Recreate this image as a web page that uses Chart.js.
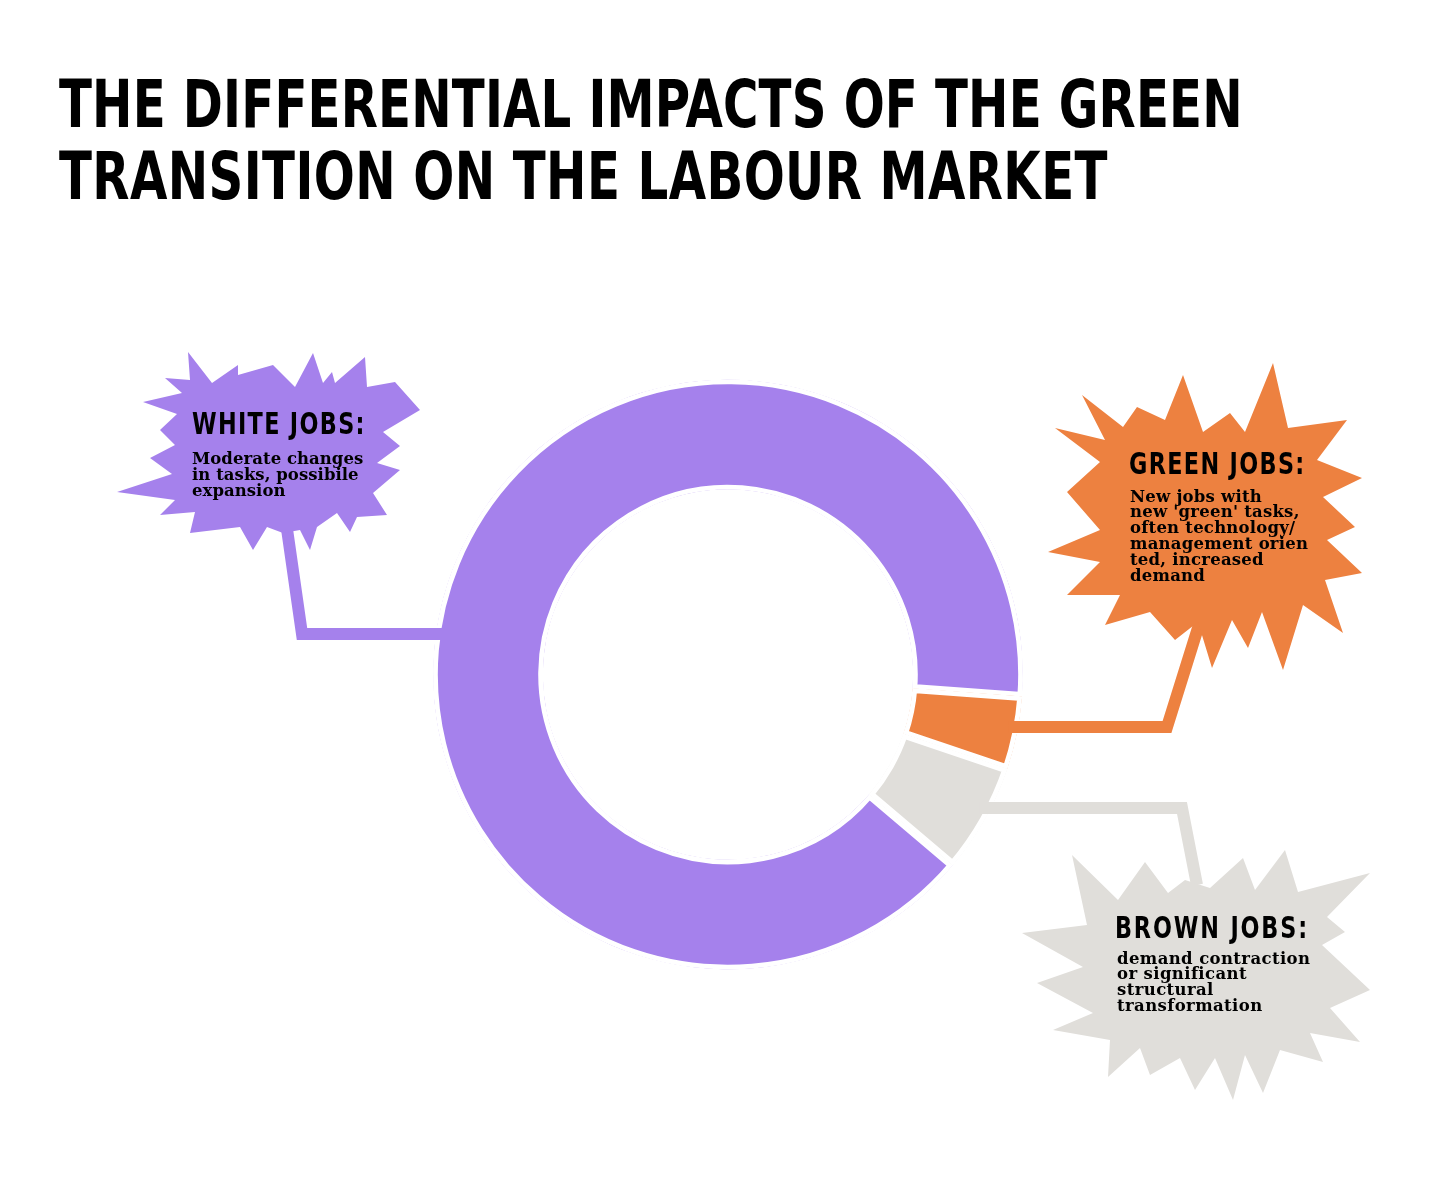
<!DOCTYPE html>
<html>
<head>
<meta charset="utf-8">
<script src="https://cdn.jsdelivr.net/npm/chart.js@4.4.0/dist/chart.umd.min.js"></script>
<style>
html, body { margin: 0; padding: 0; background: #fff; }
#wrap { position: relative; width: 1456px; height: 1200px; overflow: hidden; }
#chart { position: absolute; left: 0; top: 0; }
.txt { position: absolute; white-space: nowrap; color: #000; transform-origin: 0 0; line-height: 1; }
</style>
</head>
<body>
<div id="wrap"><canvas id="chart" width="1456" height="1200"></canvas></div>
<script>
// data
const categories = ['White jobs', 'Green jobs', 'Brown jobs'];
const shares = [90, 4, 6];
const colors = ['#a581ec', '#ed8140', '#e0deda'];

const titleLines = ['THE DIFFERENTIAL IMPACTS OF THE GREEN', 'TRANSITION ON THE LABOUR MARKET'];
const headings = ['WHITE JOBS:', 'GREEN JOBS:', 'BROWN JOBS:'];
const notes = [
    ['Moderate changes', 'in tasks, possibile', 'expansion'],
    ['New jobs with', "new 'green' tasks,", 'often technology/', 'management orien', 'ted, increased', 'demand'],
    ['demand contraction', 'or significant', 'structural', 'transformation']
];

// layout of the call-outs (decoration only)
const links = [
    { y: 634, side: -1, elbow: 302, end: [285, 515] },
    { y: 727, side: 1, elbow: 1167, end: [1202, 615] },
    { y: 808, side: 1, elbow: 1182, end: [1197, 885] }
];
const bursts = [
    [[188,352],[212,383],[238,365],[238,375],[273,365],[295,387],[313,353],[323,383],[332,372],[335,383],[365,357],[367,387],[395,382],[420,410],[383,432],[400,446],[377,463],[400,470],[373,493],[387,515],[357,517],[350,532],[337,513],[317,527],[310,550],[300,530],[283,533],[267,527],[253,550],[240,527],[190,533],[195,512],[160,515],[175,500],[117,492],[172,474],[150,458],[175,445],[160,430],[177,414],[143,402],[182,393],[165,378],[190,380]],
    [[1082,395],[1123,427],[1137,407],[1165,420],[1183,375],[1203,432],[1230,413],[1245,432],[1273,363],[1288,428],[1347,420],[1317,460],[1362,478],[1323,497],[1355,527],[1327,540],[1362,573],[1325,580],[1343,633],[1303,605],[1283,670],[1262,612],[1248,648],[1232,620],[1212,668],[1198,622],[1175,640],[1150,612],[1105,625],[1120,595],[1067,595],[1100,562],[1048,552],[1100,530],[1067,492],[1100,462],[1055,428],[1105,440]],
    [[1072,855],[1118,900],[1145,862],[1168,893],[1185,880],[1210,888],[1243,858],[1255,890],[1285,850],[1298,892],[1370,873],[1327,917],[1345,932],[1322,945],[1370,990],[1330,1008],[1360,1042],[1310,1033],[1323,1062],[1280,1050],[1263,1093],[1245,1055],[1233,1100],[1215,1058],[1195,1090],[1180,1058],[1150,1075],[1140,1048],[1108,1077],[1110,1040],[1053,1030],[1093,1013],[1037,983],[1083,967],[1022,933],[1087,925]]
];

const decor = {
    id: 'decor',
    afterDatasetsDraw(chart) {
        const ctx = chart.ctx;
        const arc = chart.getDatasetMeta(0).data[0];
        const cx = arc.x, cy = arc.y;
        const rEdge = arc.outerRadius - 10;
        ctx.save();
        links.forEach((l, i) => {
            const dx = Math.sqrt(rEdge * rEdge - (l.y - cy) ** 2) * l.side;
            ctx.beginPath();
            ctx.moveTo(cx + dx, l.y);
            ctx.lineTo(l.elbow, l.y);
            ctx.lineTo(l.end[0], l.end[1]);
            ctx.strokeStyle = colors[i];
            ctx.lineWidth = 12;
            ctx.lineJoin = 'miter';
            ctx.stroke();
        });
        bursts.forEach((pts, i) => {
            ctx.beginPath();
            pts.forEach((p, k) => k ? ctx.lineTo(p[0], p[1]) : ctx.moveTo(p[0], p[1]));
            ctx.closePath();
            ctx.fillStyle = colors[i];
            ctx.fill();
        });
        ctx.restore();
    }
};

new Chart(document.getElementById('chart'), {
    type: 'doughnut',
    data: {
        labels: categories,
        datasets: [{
            data: shares,
            backgroundColor: colors,
            borderColor: '#ffffff',
            borderWidth: 4.5,
            borderAlign: 'inner',
            borderJoinStyle: 'miter'
        }]
    },
    options: {
        responsive: false,
        animation: false,
        devicePixelRatio: 1,
        cutout: '62.7%',
        rotation: 130.3,
        layout: { padding: { left: 433, right: 433, top: 379.5, bottom: 230.5 } },
        plugins: { legend: { display: false }, tooltip: { enabled: false } }
    },
    plugins: [decor]
});

// text
const wrap = document.getElementById('wrap');
const meas = document.createElement('canvas').getContext('2d');
const SANS = "'Liberation Sans Narrow', 'DejaVu Sans Condensed', 'DejaVu Sans', sans-serif";
const SERIF = "'DejaVu Serif', serif";

function metrics(str, size, fam) {
    meas.font = 'bold ' + size + 'px ' + fam;
    return meas.measureText(str);
}

function place(str, x, baseline, size, fam, ls, sx) {
    const d = document.createElement('div');
    d.className = 'txt';
    d.style.fontFamily = fam;
    d.style.fontWeight = 'bold';
    d.style.fontSize = size + 'px';
    d.style.letterSpacing = ls + 'px';
    d.style.transform = 'scaleX(' + sx + ')';
    d.textContent = str;
    const mark = document.createElement('span');
    mark.style.cssText = 'display:inline-block;width:0;height:0;vertical-align:baseline';
    d.appendChild(mark);
    wrap.appendChild(d);
    const m = metrics(str, size, fam);
    d.style.left = (x + m.actualBoundingBoxLeft * sx) + 'px';
    d.style.top = (baseline - mark.offsetTop) + 'px';
}

// caps text fitted to the widths seen in the picture
function capsLine(str, x, baseline, cap, width) {
    const size = cap / (metrics('H', 100, SANS).actualBoundingBoxAscent / 100);
    const h = metrics('H', size, SANS);
    const sx = Math.min(1, (cap * 0.68) / (h.actualBoundingBoxLeft + h.actualBoundingBoxRight));
    const m = metrics(str, size, SANS);
    const w0 = m.actualBoundingBoxLeft + m.actualBoundingBoxRight;
    const ls = (width / sx - w0) / (str.length - 1);
    place(str, x, baseline, size, SANS, ls, sx);
}

capsLine(titleLines[0], 59, 127, 48, 1180);
capsLine(titleLines[1], 59, 199, 48, 1049);

const headX = [192, 1130, 1117];
const headBase = [434, 474, 938];
const headW = [170, 172, 188];
headings.forEach((h, i) => capsLine(h, headX[i], headBase[i], 22.5, headW[i]));

const noteBase = [464, 501.5, 963.5];
const noteRef = [0, 3, 0];
const noteRefW = [171, 178, 193];
const noteSize = 16.5;
notes.forEach((lines, i) => {
    const ref = lines[noteRef[i]];
    const m = metrics(ref, noteSize, SERIF);
    const ls = (noteRefW[i] - (m.actualBoundingBoxLeft + m.actualBoundingBoxRight)) / (ref.length - 1);
    lines.forEach((t, k) => place(t, headX[i], noteBase[i] + k * 15.8, noteSize, SERIF, ls, 1));
});
</script>
</body>
</html>
